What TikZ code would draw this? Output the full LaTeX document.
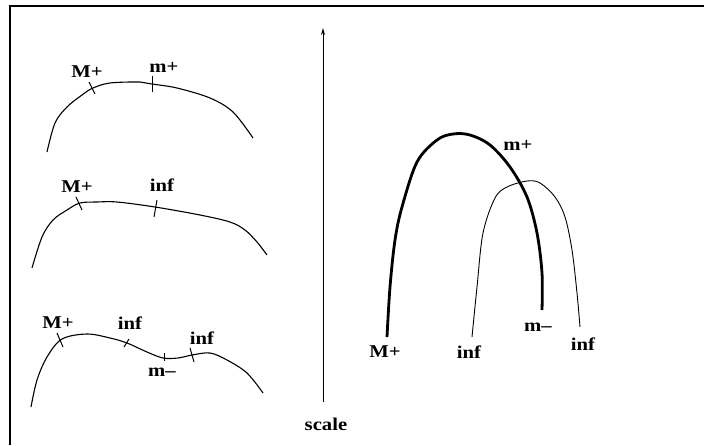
\documentclass[tikz,border=0pt]{standalone}
\usepackage{fontspec}
\setmainfont[FakeStretch=1.15]{Liberation Serif}
\usetikzlibrary{arrows.meta}
\begin{document}
\begin{tikzpicture}[x=1pt,y=-1pt,
  lbl/.style={font=\fontsize{18}{20}\selectfont\bfseries, inner sep=0pt},
  crv/.style={line width=1.1pt, line join=round},
  tick/.style={line width=1pt},
  thickarc/.style={line width=2.8pt},
  thinarc/.style={line width=0.9pt}]
\useasboundingbox (0,0) rectangle (704,445);
% frame (only top and left visible)
\draw[line width=2.8pt] (10,445) -- (10,6) -- (704,6);

% ---- curve 1
\draw[crv] plot[smooth, tension=0.55] coordinates {(47,152) (55,123) (67,107) (82,95) (93,88) (110,83) (140,82) (152,84) (177,88) (210,98) (233,112) (253,138)};
\draw[tick] (89,82) -- (95,94);
\draw[tick] (152,76) -- (152,92);
\node[lbl] (c1M) at (87,72) {M+};
\node[lbl] (c1m) at (164,67) {m+};

% ---- curve 2
\draw[crv] plot[smooth, tension=0.55] coordinates {(32,268) (42,237) (53,220) (67,210) (80,203) (97,202) (117,202) (155,207) (200,215) (230,222) (245,230) (257,242) (267,255)};
\draw[tick] (76,197) -- (82,210);
\draw[tick] (157,200) -- (154,217);
\node[lbl] (c2M) at (77,187) {M+};
\node[lbl] (c2i) at (162,185) {inf};

% ---- curve 3
\draw[crv] plot[smooth, tension=0.55] coordinates {(31,407) (37,380) (47,357) (62,339) (87,334) (110,338) (127,343) (147,352) (163,358) (178,358) (192,355) (210,353) (227,360) (247,373) (263,393)};
\draw[tick] (57,333) -- (63,347);
\draw[tick] (129,339) -- (124,347);
\draw[tick] (164,353) -- (164,361);
\draw[tick] (190,348) -- (194,362);
\node[lbl] (c3M) at (58,323) {M+};
\node[lbl] (c3i1) at (130,323) {inf};
\node[lbl] (c3m) at (162,372) {m--};
\node[lbl] (c3i2) at (202,338) {inf};

% ---- scale axis
\coordinate (axb) at (323,402);
\coordinate (axt) at (323,28);
\draw[line width=1pt, -{Stealth[length=7pt,width=4pt]}] (axb) -- (axt);
\node[lbl] (sc) at (326,424) {scale};

% ---- right arcs
\draw[thickarc] plot[smooth, tension=0.55] coordinates {(387,337) (390,287) (395,240) (402,207) (417,162) (437,140) (453,134) (470,135) (490,145) (510,167) (527,197) (537,233) (542,273) (542,310)};
\draw[thinarc] plot[smooth, tension=0.55] coordinates {(472,337) (477,287) (483,233) (495,198) (507,187) (527,181) (540,183) (555,197) (565,217) (572,250) (577,293) (580,327)};
\node[lbl] (aM) at (385,352) {M+};
\node[lbl] (am) at (518,145) {m+};
\node[lbl] (amm) at (538,327) {m--};
\node[lbl] (ai1) at (469,352) {inf};
\node[lbl] (ai2) at (583,344) {inf};
\end{tikzpicture}
\end{document}
